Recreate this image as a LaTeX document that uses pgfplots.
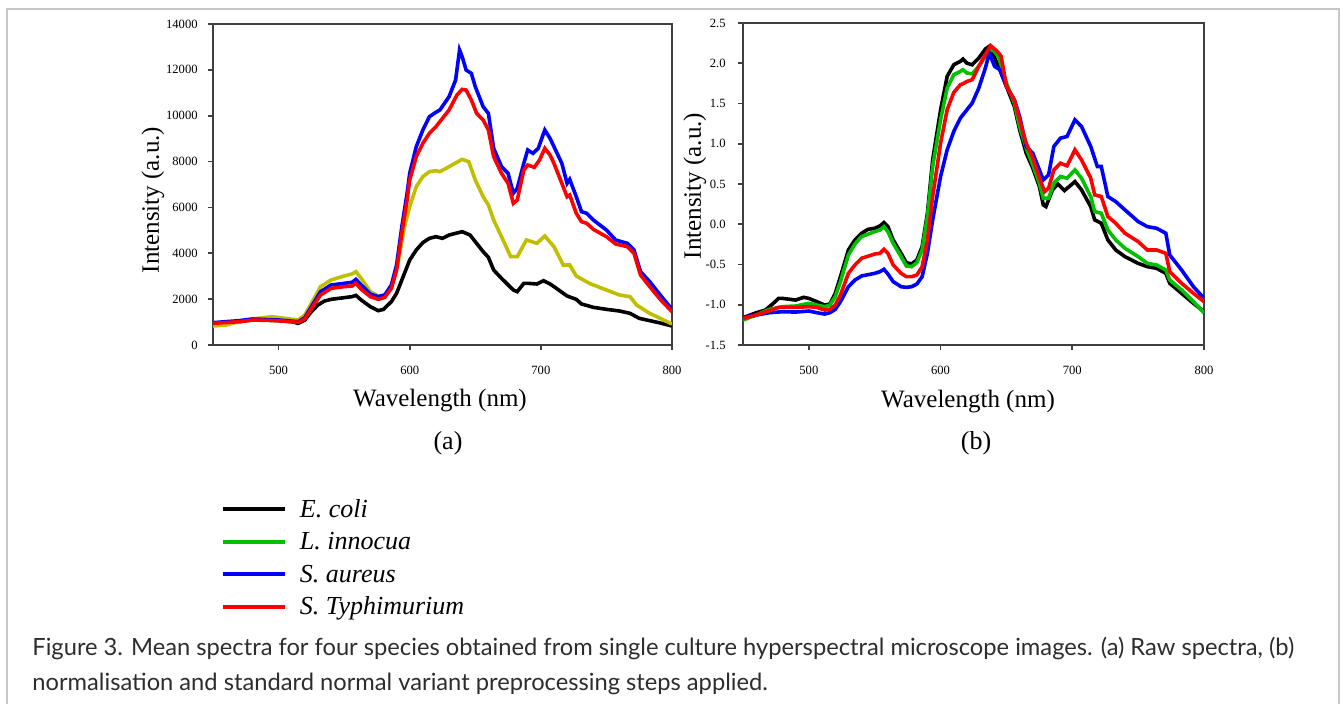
\documentclass[border=0pt]{standalone}
\usepackage{fontspec}
\setmainfont{Liberation Serif}
\newfontfamily\latofont{Lato}
\usepackage{pgfplots}
\pgfplotsset{compat=1.18}

\definecolor{myyellow}{RGB}{191,191,0}
\definecolor{mygreen}{RGB}{0,192,0}
\definecolor{axgray}{RGB}{64,64,64}
\definecolor{bordergray}{RGB}{200,200,200}
\definecolor{captext}{RGB}{45,45,45}

\pgfplotsset{
  spec/.style={
    scale only axis, xmin=450, xmax=800, xtick={500,600,700,800},
    tick align=outside, xtick pos=bottom, ytick pos=left, major tick length=2.5pt,
    axis line style={axgray, line width=0.8pt},
    tick style={axgray, line width=0.8pt},
    every tick label/.append style={font=\fontsize{6.3}{7}\selectfont, text=black, inner sep=0pt},
    /pgf/number format/assume math mode=true,
    scaled ticks=false,
    xticklabel style={anchor=center, yshift=-10pt},
    every axis plot/.append style={line width=1.8pt, mark=none},
  }
}

\begin{document}
\begin{tikzpicture}
\path[use as bounding box] (0,0) rectangle (671.5pt,352pt);
\draw[bordergray, line width=1pt] (3.5pt,0pt) -- (3.5pt,347.5pt) -- (669.5pt,347.5pt) -- (669.5pt,0pt);

% ---------------- panel (a)
\begin{axis}[spec, at={(106.5pt,179.5pt)}, anchor=south west,
  width=229.5pt, height=160.5pt,
  ymin=0, ymax=14000, ytick={0,2000,...,14000},
  yticklabel style={anchor=east, xshift=-5pt},
  /pgf/number format/1000 sep={},
  legend style={at={(0.0174,-0.4798)}, anchor=north west, draw=none, fill=none,
    inner sep=0pt, outer sep=0pt, row sep=4.25pt, column sep=6.5pt,
    font=\fontsize{13}{15}\selectfont\itshape,
    nodes={inner sep=0pt, text height=9pt, text depth=3pt}},
  legend cell align=left,
  legend image code/.code={\draw[#1] (0pt,1pt) -- (31pt,1pt);},
]
\addplot[black, forget plot] coordinates {
(450,944)(460,974)(470,1017)(480,1090)(490,1090)(500,1061)(510,1017)(515,944)
(520,1090)(525,1453)(530,1744)(535,1918)(540,1991)(550,2064)(556,2107)(559,2165)
(563,1962)(570,1671)(576,1497)(580,1555)(586,1889)(590,2253)(596,3125)(600,3707)
(605,4143)(610,4463)(615,4651)(620,4724)(625,4651)(630,4796)(640,4942)(646,4796)
(650,4506)(656,4070)(660,3823)(664,3270)(670,2907)(679,2398)(682,2325)(687,2689)
(690,2689)(697,2660)(702,2805)(707,2660)(710,2544)(720,2137)(727,1991)(731,1788)
(740,1642)(750,1555)(760,1482)(768,1380)(775,1163)(790,974)(800,828)};
\addplot[myyellow, forget plot] coordinates {
(450,828)(460,872)(470,1017)(480,1133)(495,1235)(505,1163)(515,1090)(520,1308)
(525,1817)(532,2544)(540,2835)(550,3009)(556,3096)(559,3198)(563,2907)(570,2325)
(576,2137)(581,2180)(586,2471)(591,3561)(596,5160)(600,6032)(605,6905)(610,7341)
(615,7559)(620,7602)(623,7559)(630,7777)(640,8097)(645,7995)(650,7195)(656,6468)
(660,6105)(664,5451)(670,4724)(677,3852)(682,3852)(689,4579)(697,4433)(703,4753)
(710,4288)(717,3488)(722,3488)(727,3009)(737,2689)(750,2398)(760,2180)(768,2107)
(773,1744)(783,1380)(800,916)};
\addplot[blue, forget plot] coordinates {
(450,974)(470,1061)(480,1133)(500,1090)(515,1017)(520,1192)(525,1671)(532,2325)
(540,2616)(550,2689)(556,2733)(559,2863)(563,2616)(570,2224)(576,2107)(581,2180)
(586,2616)(590,3488)(594,5160)(598,6614)(600,7486)(605,8649)(610,9376)(615,9957)
(620,10150)(623,10248)(630,10829)(635,11556)(638,12865)(640,12574)(643,11992)
(647,11847)(650,11266)(656,10393)(660,10102)(664,8576)(670,7777)(675,7486)
(679,6614)(682,6832)(687,7922)(690,8504)(694,8358)(698,8576)(703,9376)(707,9012)
(710,8649)(716,7922)(720,7050)(722,7224)(727,6468)(731,5814)(735,5742)(740,5451)
(750,5015)(757,4579)(766,4433)(771,4143)(776,3198)(783,2762)(791,2180)(800,1555)};
\addplot[red, forget plot] coordinates {
(450,944)(470,1017)(480,1090)(500,1061)(515,988)(520,1133)(525,1584)(532,2180)
(540,2471)(550,2544)(556,2573)(559,2689)(563,2427)(570,2107)(576,1991)(581,2078)
(586,2471)(590,3270)(594,4869)(598,6323)(600,7195)(605,8213)(610,8794)(615,9231)
(620,9522)(630,10248)(636,10902)(640,11149)(643,11120)(647,10684)(651,10102)
(656,9812)(660,9376)(664,8213)(670,7486)(675,7050)(679,6178)(682,6323)(687,7631)
(690,7850)(695,7748)(699,8068)(703,8576)(707,8285)(710,7922)(716,7050)(720,6468)
(722,6541)(727,5742)(731,5378)(735,5306)(740,5044)(750,4724)(757,4404)(766,4288)
(771,3998)(776,3052)(783,2544)(791,1991)(800,1453)};
\addlegendimage{black, line width=2pt}
\addlegendentry{E. coli}
\addlegendimage{mygreen, line width=2pt}
\addlegendentry{L. innocua}
\addlegendimage{blue, line width=2pt}
\addlegendentry{S. aureus}
\addlegendimage{red, line width=2pt}
\addlegendentry{S. Typhimurium}
\end{axis}

% ---------------- panel (b)
\begin{axis}[spec, at={(371.5pt,179.5pt)}, anchor=south west,
  width=230.5pt, height=161pt,
  ymin=-1.5, ymax=2.5, ytick={-1.5,-1,...,2.5},
  yticklabel style={anchor=east, xshift=-6pt,
    /pgf/number format/.cd, fixed, fixed zerofill, precision=1},
]
\addplot[black] coordinates {
(450,-1.161)(460,-1.10)(467,-1.066)(473,-0.983)(477,-0.921)(480,-0.921)(490,-0.942)
(496,-0.908)(500,-0.921)(506,-0.962)(512,-1.004)(516,-0.991)(520,-0.859)(524,-0.651)
(530,-0.32)(535,-0.195)(540,-0.112)(545,-0.063)(550,-0.05)(554,-0.021)(557,0.02)
(560,-0.03)(564,-0.195)(570,-0.361)(574,-0.477)(578,-0.494)(582,-0.444)(586,-0.278)
(590,0.136)(594,0.8)(600,1.42)(605,1.836)(610,1.981)(615,2.023)(617,2.052)(620,2.0)
(624,1.981)(629,2.064)(634,2.176)(637,2.21)(644,1.961)(650,1.712)(656,1.463)
(660,1.173)(665,0.883)(670,0.696)(675,0.468)(678,0.24)(680,0.219)(685,0.427)
(689,0.501)(694,0.418)(700,0.501)(702,0.53)(707,0.427)(714,0.219)(717,0.054)
(722,0.012)(727,-0.195)(733,-0.32)(740,-0.403)(750,-0.486)(757,-0.527)(764,-0.548)
(771,-0.61)(774,-0.734)(783,-0.859)(792,-0.983)(800,-1.087)};
\addplot[mygreen] coordinates {
(450,-1.19)(460,-1.128)(470,-1.058)(480,-1.024)(490,-1.016)(500,-0.983)(506,-1.004)
(512,-1.024)(516,-1.004)(520,-0.9)(524,-0.713)(530,-0.382)(535,-0.245)(540,-0.154)
(550,-0.092)(554,-0.071)(557,-0.03)(560,-0.092)(564,-0.237)(570,-0.403)(574,-0.519)
(578,-0.527)(582,-0.477)(586,-0.32)(590,0.095)(594,0.717)(600,1.297)(605,1.691)
(610,1.857)(615,1.898)(617,1.919)(620,1.878)(624,1.869)(629,1.961)(634,2.085)
(637,2.168)(640,2.16)(644,2.085)(650,1.753)(656,1.505)(660,1.214)(665,0.945)
(670,0.738)(675,0.51)(678,0.323)(682,0.323)(686,0.51)(691,0.593)(696,0.572)
(702,0.675)(707,0.572)(714,0.344)(717,0.157)(722,0.136)(727,-0.071)(733,-0.195)
(740,-0.299)(750,-0.403)(757,-0.486)(764,-0.506)(771,-0.569)(774,-0.693)(783,-0.817)
(792,-0.962)(800,-1.1)};
\addplot[blue] coordinates {
(450,-1.157)(460,-1.128)(470,-1.099)(480,-1.087)(490,-1.091)(500,-1.078)(506,-1.099)
(512,-1.116)(516,-1.099)(520,-1.058)(524,-0.962)(530,-0.776)(535,-0.693)(540,-0.643)
(550,-0.61)(554,-0.589)(557,-0.56)(560,-0.618)(564,-0.713)(570,-0.776)(574,-0.784)
(578,-0.776)(582,-0.743)(586,-0.651)(590,-0.361)(594,0.054)(600,0.593)(605,0.924)
(610,1.152)(615,1.318)(620,1.422)(624,1.505)(629,1.691)(634,1.94)(637,2.126)
(641,1.961)(645,1.919)(650,1.712)(656,1.546)(660,1.339)(665,0.966)(670,0.883)
(674,0.717)(678,0.551)(682,0.613)(686,0.966)(691,1.069)(696,1.09)(702,1.297)
(707,1.214)(714,0.966)(719,0.717)(722,0.717)(727,0.344)(733,0.281)(740,0.178)
(750,0.033)(757,-0.03)(764,-0.05)(771,-0.112)(774,-0.382)(783,-0.569)(792,-0.776)
(800,-0.921)};
\addplot[red] coordinates {
(450,-1.17)(460,-1.128)(470,-1.074)(477,-1.033)(490,-1.033)(500,-1.024)(506,-1.033)
(512,-1.066)(516,-1.058)(520,-1.004)(524,-0.879)(530,-0.61)(535,-0.506)(540,-0.423)
(550,-0.37)(554,-0.361)(557,-0.311)(560,-0.361)(564,-0.506)(570,-0.61)(574,-0.651)
(578,-0.651)(582,-0.63)(586,-0.527)(590,-0.195)(594,0.344)(600,1.007)(605,1.422)
(610,1.637)(615,1.733)(617,1.745)(620,1.774)(624,1.795)(629,1.961)(634,2.106)
(638,2.218)(643,2.147)(646,2.085)(650,1.712)(656,1.546)(660,1.297)(665,1.007)
(670,0.82)(675,0.572)(679,0.406)(682,0.448)(686,0.675)(691,0.758)(696,0.725)
(702,0.924)(707,0.8)(714,0.572)(717,0.365)(722,0.344)(727,0.095)(733,0.012)
(740,-0.112)(750,-0.216)(757,-0.32)(764,-0.32)(771,-0.361)(774,-0.589)(783,-0.734)
(792,-0.859)(800,-0.962)};
\end{axis}

% ---------------- labels
\node[rotate=90, inner sep=0pt, font=\fontsize{12.5}{14}\selectfont] at (76.5pt,252pt) {Intensity (a.u.)};
\node[rotate=90, inner sep=0pt, font=\fontsize{12.5}{14}\selectfont] at (347.5pt,259pt) {Intensity (a.u.)};
\node[inner sep=0pt, font=\fontsize{12.5}{14}\selectfont] at (220pt,151.5pt) {Wavelength (nm)};
\node[inner sep=0pt, font=\fontsize{12.5}{14}\selectfont] at (484pt,151pt) {Wavelength (nm)};
\node[inner sep=0pt, font=\fontsize{13}{15}\selectfont] at (224pt,130.5pt) {(a)};
\node[inner sep=0pt, font=\fontsize{13}{15}\selectfont] at (488pt,130.5pt) {(b)};

% ---------------- caption
\node[anchor=base west, inner sep=0pt, font=\latofont\fontsize{11.85}{14}\selectfont, text=captext] at (16pt,24pt)
  {Figure 3. Mean spectra for four species obtained from single culture hyperspectral microscope images. (a) Raw spectra, (b)};
\node[anchor=base west, inner sep=0pt, font=\latofont\fontsize{11.85}{14}\selectfont, text=captext] at (16pt,6.5pt)
  {normalisation and standard normal variant preprocessing steps applied.};
\end{tikzpicture}
\end{document}
